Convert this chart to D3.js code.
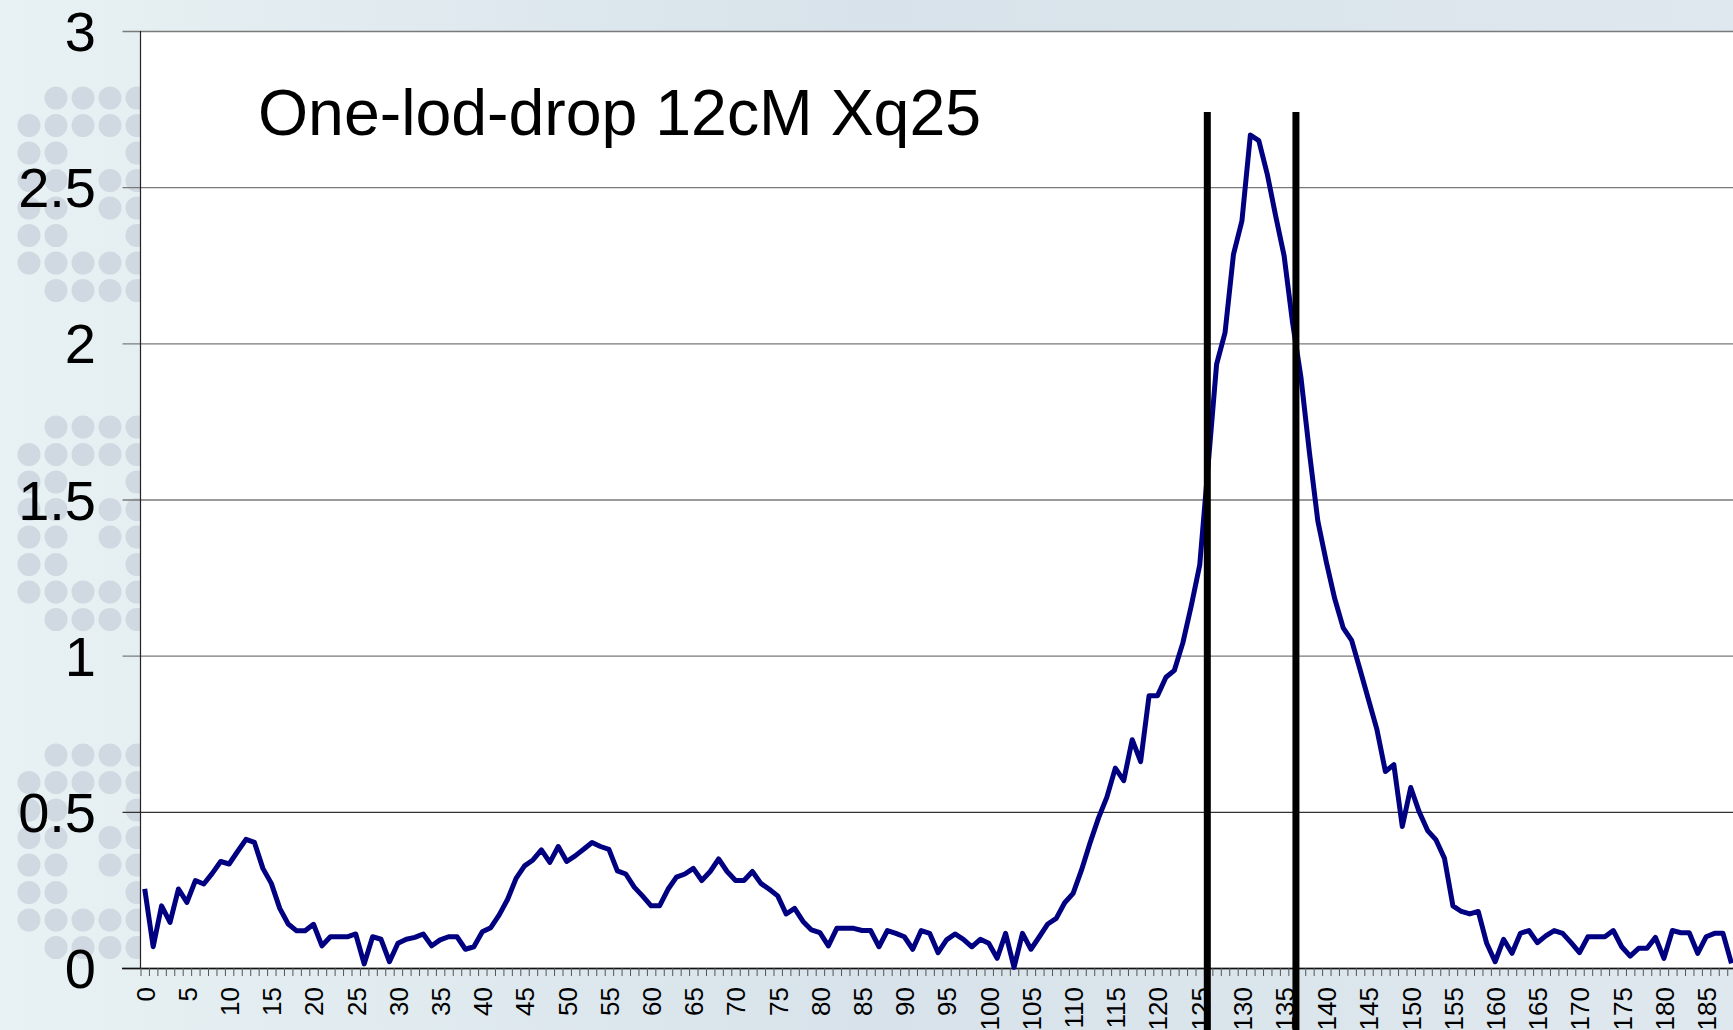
<!DOCTYPE html>
<html>
<head>
<meta charset="utf-8">
<script src="https://cdn.jsdelivr.net/npm/d3@7"></script>
<style>
html,body{margin:0;padding:0;overflow:hidden;background:#e3ecf0;}
svg{display:block;}
text{font-family:"Liberation Sans",Arial,sans-serif;}
</style>
</head>
<body>
<svg id="chart" width="1733" height="1030"></svg>
<script>
// ---- data ----
const title = "One-lod-drop 12cM Xq25";
const positions = d3.range(0, 189); // cM positions 0..188
const lod = [
0.253,0.068,0.199,0.146,0.253,0.210,0.280,0.269,0.303,0.341,
0.333,0.373,0.412,0.402,0.319,0.271,0.191,0.141,0.119,0.119,
0.140,0.071,0.100,0.100,0.100,0.109,0.013,0.100,0.092,0.020,
0.079,0.092,0.098,0.109,0.071,0.090,0.100,0.100,0.060,0.068,
0.116,0.129,0.170,0.220,0.287,0.327,0.346,0.378,0.338,0.389,
0.341,0.359,0.380,0.402,0.389,0.380,0.311,0.301,0.259,0.230,
0.199,0.199,0.252,0.291,0.301,0.319,0.280,0.309,0.349,0.309,
0.280,0.280,0.309,0.271,0.252,0.231,0.173,0.191,0.149,0.122,
0.113,0.071,0.127,0.127,0.127,0.120,0.120,0.068,0.120,0.111,
0.100,0.060,0.120,0.111,0.049,0.090,0.109,0.092,0.068,0.092,
0.079,0.031,0.111,0.002,0.111,0.060,0.100,0.141,0.159,0.209,
0.239,0.314,0.400,0.480,0.547,0.640,0.600,0.731,0.661,0.872,
0.872,0.931,0.953,1.041,1.160,1.290,1.610,1.933,2.034,2.285,
2.392,2.667,2.649,2.542,2.408,2.280,2.066,1.890,1.650,1.430,
1.300,1.182,1.089,1.049,0.955,0.859,0.763,0.629,0.651,0.453,
0.578,0.500,0.440,0.410,0.351,0.199,0.181,0.173,0.181,0.079,
0.020,0.092,0.047,0.111,0.120,0.081,0.103,0.120,0.111,0.081,
0.049,0.100,0.100,0.100,0.120,0.068,0.038,0.063,0.063,0.098,
0.031,0.120,0.113,0.113,0.047,0.100,0.111,0.111,0.015
];
const yTicks = [0, 0.5, 1, 1.5, 2, 2.5, 3];
const yTickLabels = ["0", "0.5", "1", "1.5", "2", "2.5", "3"];
const xLabelStep = 5;
const dropInterval = [125.9, 136.4]; // one-lod-drop interval bounds (category units)

// ---- layout ----
const W = 1733, H = 1030;
const plotL = 140.5, plotT = 31, plotB = 968;
const step = 8.44;
const plotR = plotL + positions.length * step;

const svg = d3.select("#chart");

// background
const defs = svg.append("defs");
const bg = defs.append("linearGradient").attr("id", "bg").attr("x1", "0").attr("x2", "1").attr("y1", "0").attr("y2", "0");
bg.append("stop").attr("offset", "0").attr("stop-color", "#e8f2f4");
bg.append("stop").attr("offset", "0.5").attr("stop-color", "#d7e2ea");
bg.append("stop").attr("offset", "1").attr("stop-color", "#dfe8ee");
svg.append("rect").attr("width", W).attr("height", H).attr("fill", "url(#bg)");

// decorative dot clusters (template background)
const dotShape = [".XXXX", "XXXXX", "XX..X", "XX.XX", "XX.XX", "XX..X", "XXXXX", ".XXXX"];
const clusterTops = [98, 427, 755];
const dotCols = [29, 56, 83, 110, 137];
const gDots = svg.append("g");
clusterTops.forEach(top => {
  dotShape.forEach((row, r) => {
    row.split("").forEach((c, k) => {
      if (c === "X") gDots.append("circle").attr("cx", dotCols[k]).attr("cy", top + r * 27.5).attr("r", 11.5).attr("fill", "#d0d9e1");
    });
  });
});

// scales
const x = d3.scaleLinear().domain([-0.5, positions.length - 0.5]).range([plotL, plotR]);
const y = d3.scaleLinear().domain([0, 3]).range([plotB, plotT]);

// plot area
svg.append("rect").attr("x", plotL).attr("y", plotT).attr("width", plotR - plotL).attr("height", plotB - plotT).attr("fill", "#ffffff");

// gridlines + y ticks
const yAxis = d3.axisLeft(y).tickValues(yTicks).tickSize(-(plotR - plotL)).tickSizeOuter(0).tickFormat("");
const gy = svg.append("g").attr("transform", `translate(${plotL},0)`).call(yAxis);
gy.select(".domain").remove();
gy.selectAll(".tick line").attr("x1", -18).attr("stroke", (d) => d === 0.5 ? "#333" : "#7a7a7a").attr("stroke-width", 1.3);

// y labels
svg.append("g").selectAll("text").data(yTicks).join("text")
  .attr("x", 96).attr("y", d => y(d)).attr("dy", "0.36em")
  .attr("text-anchor", "end").attr("font-size", 56).attr("fill", "#000")
  .text((d, i) => yTickLabels[i]);

// y axis line
svg.append("line").attr("x1", plotL).attr("x2", plotL).attr("y1", plotT).attr("y2", plotB).attr("stroke", "#222").attr("stroke-width", 1.2);

// x axis with tick marks at category boundaries
const xTickAxis = d3.axisBottom(x).tickValues(d3.range(-0.5, positions.length, 1)).tickSize(8).tickSizeOuter(0).tickFormat("");
const gx = svg.append("g").attr("transform", `translate(0,${plotB})`).call(xTickAxis);
gx.select(".domain").attr("d", `M122,0.5H${plotR}`).attr("stroke", "#111").attr("stroke-width", 1.3);
gx.selectAll(".tick line").attr("stroke", "#555").attr("stroke-width", 1);

// x labels
const xLabelAxis = d3.axisBottom(x).tickValues(positions.filter(p => p % xLabelStep === 0)).tickSize(0).tickFormat(d => String(positions[d]));
const gxl = svg.append("g").attr("transform", `translate(0,${plotB})`).call(xLabelAxis);
gxl.select(".domain").remove();
gxl.selectAll("text")
  .attr("font-size", 26).attr("fill", "#000")
  .attr("transform", "rotate(-90)")
  .attr("text-anchor", "end").attr("x", -19).attr("y", 0).attr("dy", "0.36em");

// LOD curve
const line = d3.line().x((d, i) => x(positions[i])).y(d => y(d));
svg.append("path").datum(lod).attr("d", line)
  .attr("fill", "none").attr("stroke", "#000080").attr("stroke-width", 5).attr("stroke-linejoin", "round");

// one-lod-drop interval bars
svg.append("g").selectAll("line").data(dropInterval).join("line")
  .attr("x1", d => x(d)).attr("x2", d => x(d)).attr("y1", 112).attr("y2", H)
  .attr("stroke", "#000").attr("stroke-width", 7);

// title
svg.append("text").attr("x", 258).attr("y", 135).attr("font-size", 64.4).attr("fill", "#000").text(title);
</script>
</body>
</html>
